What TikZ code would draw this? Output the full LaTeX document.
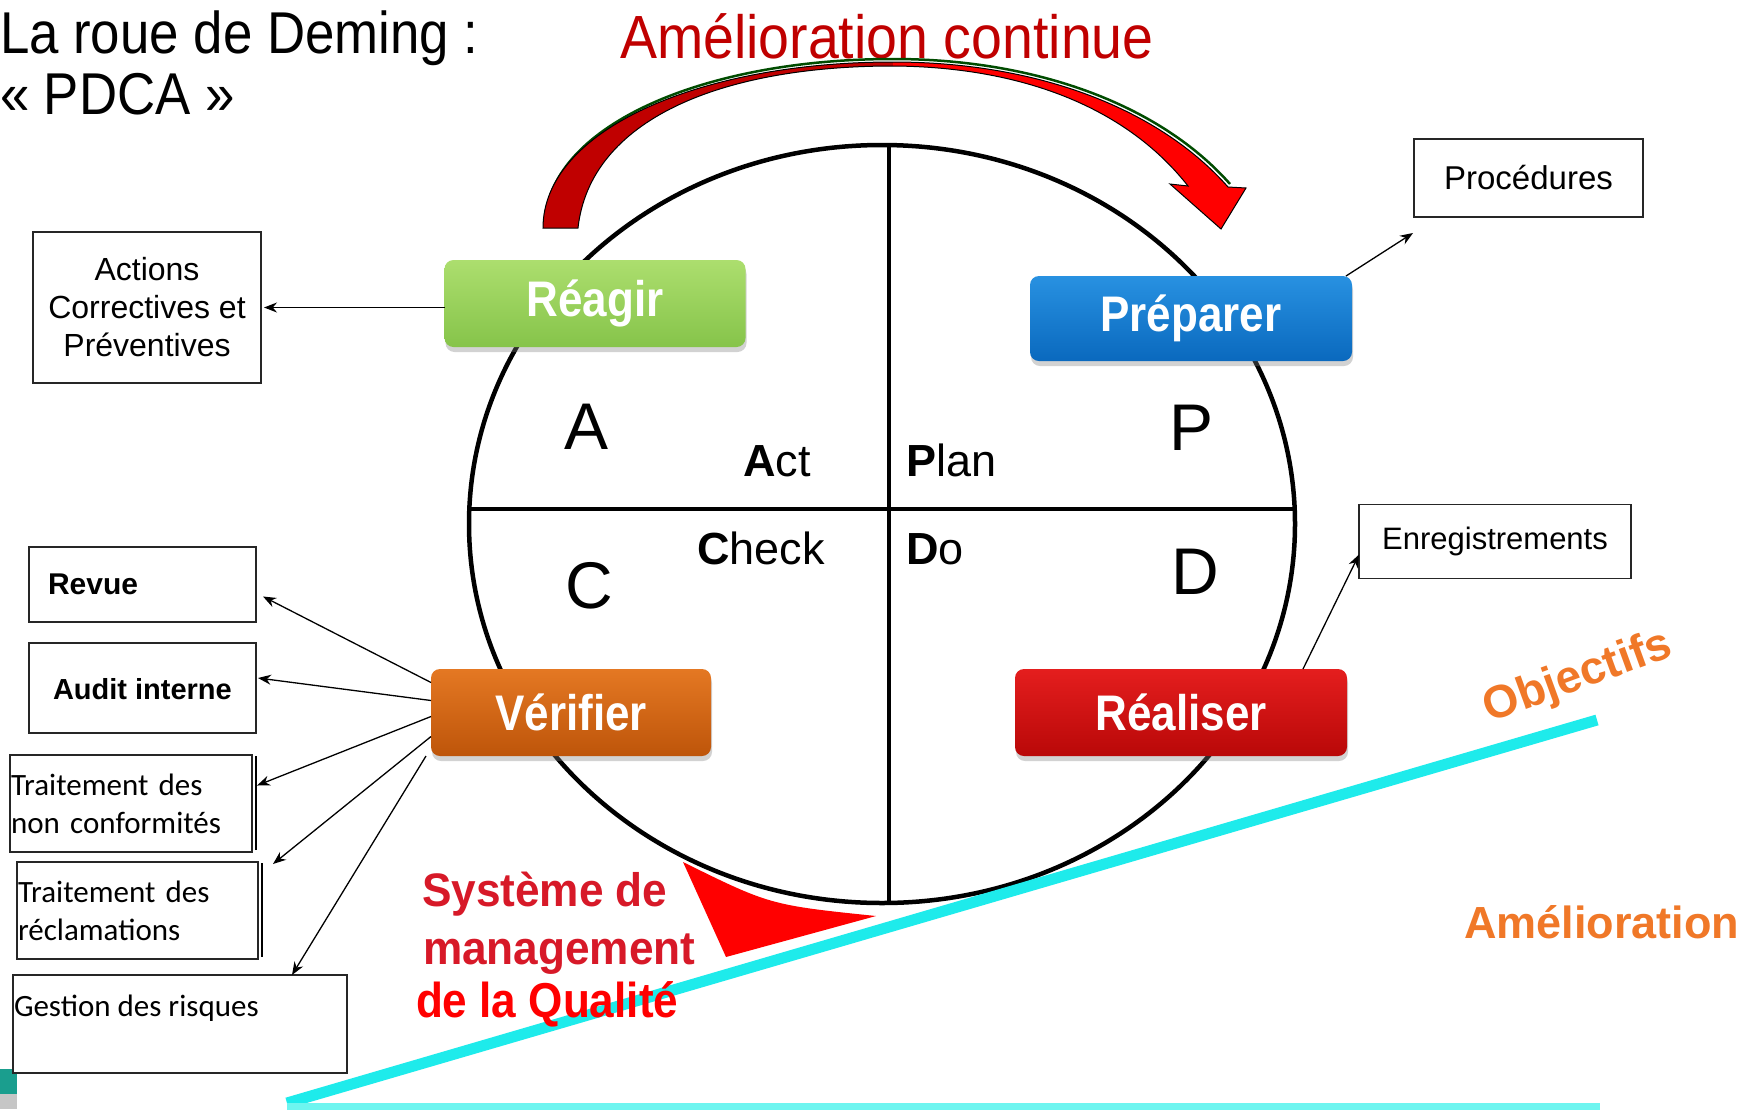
\documentclass[tikz,border=0pt]{standalone}
\usepackage{fontspec}
\setmainfont{Liberation Sans}
\newfontfamily\calibfont{Carlito}
\usepackage{graphicx}
\usetikzlibrary{arrows.meta,shadows,calc}
\definecolor{ameDark}{RGB}{192,0,0}
\definecolor{ameRed}{RGB}{255,0,0}
\definecolor{smqRed}{RGB}{215,25,40}
\definecolor{orangeTxt}{RGB}{240,120,40}
\definecolor{cyanLine}{RGB}{30,235,235}
\definecolor{cyanLight}{RGB}{110,245,240}
\definecolor{tealMark}{RGB}{26,158,142}
\definecolor{gTop}{RGB}{172,222,110}\definecolor{gBot}{RGB}{134,196,74}
\definecolor{bTop}{RGB}{40,145,225}\definecolor{bBot}{RGB}{10,105,190}
\definecolor{oTop}{RGB}{228,120,35}\definecolor{oBot}{RGB}{190,85,10}
\definecolor{rTop}{RGB}{228,30,30}\definecolor{rBot}{RGB}{185,8,8}
\newcommand\nx[2]{\scalebox{#1}[1]{#2}}
\begin{document}
\begin{tikzpicture}[x=1pt,y=-1pt,
  every node/.style={inner sep=0pt, outer sep=0pt},
  plainbox/.style={draw=black!85, line width=1.4pt, fill=white},
  btn/.style={rounded corners=9pt, text=white, font=\fontsize{50}{56}\selectfont\bfseries,
    drop shadow={shadow xshift=1pt, shadow yshift=-5pt, opacity=0.35}},
  arr/.style={line width=1.3pt, -{Stealth[length=13pt,width=10pt]}},
  bigletter/.style={font=\fontsize{66}{70}\selectfont},
  pdcaword/.style={anchor=base west, font=\fontsize{45}{50}\selectfont},
  smq/.style={anchor=base west, font=\fontsize{47}{52}\selectfont\bfseries}]
\useasboundingbox (0,0) rectangle (1742,1109);
\fill[white] (0,0) rectangle (1742,1109);

% bottom-left marks
\fill[tealMark] (0,1069) rectangle (17,1094);
\fill[gray!45] (0,1094) rectangle (17,1109);

% titles
\node[anchor=base west, font=\fontsize{59}{66}\selectfont] (title1) at (0,53) {\nx{0.895}{La roue de Deming :}};
\node[anchor=base west, font=\fontsize{59}{66}\selectfont] (title2) at (0,114) {\nx{0.895}{« PDCA »}};
\node[anchor=base west, text=ameDark, font=\fontsize{61}{66}\selectfont] (amcont) at (620,58) {\nx{0.91}{Amélioration continue}};

% curved arrow
\draw[line width=2.5pt, green!30!black] (545,226) .. controls (545,128) and (700,59) .. (893,59) .. controls (1040,59) and (1162,107) .. (1230,184);
\fill[ameDark] (543,228) .. controls (543,130) and (700,62) .. (893,62) -- (893,66) .. controls (720,66) and (590,120) .. (578,228) -- cycle;
\fill[ameRed] (893,62) .. controls (1040,62) and (1160,110) .. (1228,187) -- (1246,188) -- (1221,229) -- (1170,184) -- (1188,186) .. controls (1130,112) and (1030,67) .. (893,66) -- cycle;
\draw[line width=1pt] (543,228) .. controls (543,130) and (700,62) .. (893,62) .. controls (1040,62) and (1160,110) .. (1228,187) -- (1246,188) -- (1221,229) -- (1170,184) -- (1188,186) .. controls (1130,112) and (1030,67) .. (893,66) .. controls (720,66) and (590,120) .. (578,228) -- cycle;

% wheel
\draw[line width=4.5pt] (882,524) ellipse [x radius=413pt, y radius=379pt];
\draw[line width=4pt] (889,145) -- (889,903);
\draw[line width=4.5pt] (469,509) -- (1295,509);

% quadrant letters and words
\node[bigletter] (lA) at (587,427) {A};
\node[bigletter] (lP) at (1191,427.5) {P};
\node[bigletter] (lC) at (589,586) {C};
\node[bigletter] (lD) at (1195,571.5) {D};
\node[pdcaword] (act) at (743,476) {\textbf{A}ct};
\node[pdcaword] (plan) at (906,476) {\textbf{P}lan};
\node[pdcaword] (check) at (697,564) {\textbf{C}heck};
\node[pdcaword] (do) at (906,564) {\textbf{D}o};

% cyan lines
\draw[line width=11pt, cyanLine] (287,1103) -- (1597,720);
\draw[line width=7pt, cyanLight] (287,1106) -- (1600,1106);

% red triangle
\fill[ameRed] (683,862) .. controls (770,905) .. (876,916) -- (726,957) -- cycle;

% SMQ text
\node[smq, text=smqRed] (smq1) at (422,906) {\nx{0.94}{Système de}};
\node[smq, text=smqRed] (smq2) at (423,964) {\nx{0.94}{management}};
\node[smq, text=ameRed, font=\fontsize{49}{54}\selectfont\bfseries] (smq3) at (416,1017) {\nx{0.9}{de la Qualité}};

% objectifs / amelioration
\node[text=orangeTxt, rotate=20, font=\fontsize{46}{52}\selectfont\bfseries] (obj) at (1578,678) {Objectifs};
\node[anchor=base west, text=orangeTxt, font=\fontsize{45}{50}\selectfont\bfseries] (amel) at (1464,938) {Amélioration};

% buttons
\node[btn, top color=gTop, bottom color=gBot, minimum width=301pt, minimum height=87pt] (reagir) at (595,303.5) {\nx{0.88}{Réagir}};
\node[btn, top color=bTop, bottom color=bBot, minimum width=322pt, minimum height=85pt] (preparer) at (1191,318.5) {\nx{0.88}{Préparer}};
\node[btn, top color=oTop, bottom color=oBot, minimum width=280pt, minimum height=87pt] (verifier) at (571,712.5) {\nx{0.88}{Vérifier}};
\node[btn, top color=rTop, bottom color=rBot, minimum width=332pt, minimum height=87pt] (realiser) at (1181,712.5) {\nx{0.88}{Réaliser}};

% boxes
\node[plainbox, minimum width=228pt, minimum height=151pt, align=center, font=\fontsize{32}{38}\selectfont] (actions) at (147,307.5) {Actions\\Correctives et\\Préventives};
\node[plainbox, minimum width=229pt, minimum height=78pt, font=\fontsize{33}{38}\selectfont] (proc) at (1528.5,178) {Procédures};
\node[plainbox, minimum width=272pt, minimum height=74pt, font=\fontsize{31}{36}\selectfont] (enreg) at (1495,541.5) {Enregistrements};
\node[plainbox, minimum width=227pt, minimum height=75pt] (revue) at (142.5,584.5) {};
\node[anchor=west, font=\fontsize{30}{36}\selectfont\bfseries] (revuetxt) at (48,584) {Revue};
\node[plainbox, minimum width=227pt, minimum height=90pt] (audit) at (142.5,688) {};
\node[anchor=west, font=\fontsize{29}{36}\selectfont\bfseries] (audittxt) at (53,689) {Audit interne};
\draw[line width=1.3pt] (256,756) -- (256,850);
\node[plainbox, minimum height=97pt, text width=240pt, inner xsep=1pt, align=left, font=\calibfont\fontsize{31}{38}\selectfont] (tnc) at (131,803.5) {Traitement des\\non conformités};
\draw[line width=1.3pt] (262,863) -- (262,957);
\node[plainbox, minimum height=97pt, text width=239pt, inner xsep=1pt, align=left, font=\calibfont\fontsize{31}{38}\selectfont] (trec) at (137.5,910.5) {Traitement des\\réclamations};
\node[plainbox, minimum width=334pt, minimum height=98pt] (gestion) at (180,1024) {};
\node[anchor=base west, font=\calibfont\fontsize{31}{38}\selectfont] (gestiontxt) at (14,1016) {Gestion des risques};

% connectors
\draw[arr] (reagir.west |- actions.east) -- ($(actions.east)+(3,0)$);
\draw[arr] ($(preparer.north east)+(-6,0)$) -- ($(proc.south west)+(-1,16)$);
\draw[arr] ($(realiser.north east)+(-44,0)$) -- ($(enreg.west)+(0,13)$);
\draw[arr] ($(verifier.west)+(0,-30)$) -- ($(revue.east)+(7,12)$);
\draw[arr] ($(verifier.west)+(0,-12)$) -- ($(audit.east)+(2,-10)$);
\draw[arr] ($(verifier.west)+(0,4)$) -- ($(tnc.east)+(5,-18)$);
\draw[arr] ($(verifier.west)+(0,24)$) -- ($(trec.north east)+(15,2)$);
\draw[arr] ($(verifier.south west)+(-5,0)$) -- ($(gestion.north west)+(279,0)$);
\end{tikzpicture}
\end{document}
